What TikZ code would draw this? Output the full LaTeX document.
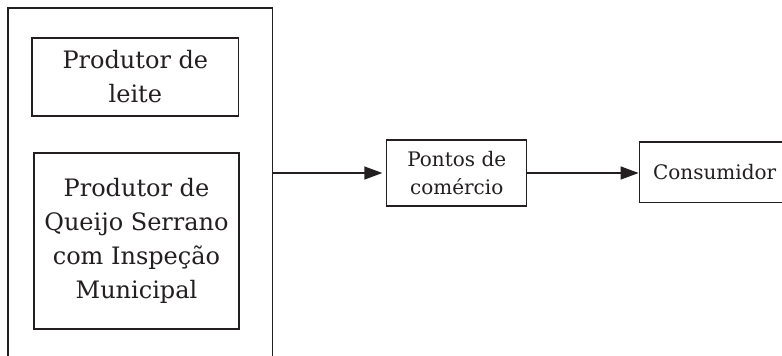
\documentclass[tikz,border=0pt]{standalone}
\usepackage{fontspec}
\setmainfont{DejaVu Serif}
\usepackage{xcolor}
\usetikzlibrary{arrows.meta}

\definecolor{tinta}{HTML}{231F20}

\begin{document}
\begin{tikzpicture}[x=0.5pt,y=-0.5pt,
	caixa/.style={draw=tinta,line width=0.7pt,align=center,text=tinta,inner sep=0pt},
	grande/.style={font=\fontsize{12pt}{17pt}\selectfont},
	pequena/.style={font=\fontsize{10pt}{13.85pt}\selectfont},
	seta/.style={-{Triangle[length=9pt,width=6.5pt]},draw=tinta,fill=tinta,line width=0.7pt}]
	\clip (0,0) rectangle (782,355);
	\fill[white] (0,0) rectangle (782,355);
	
	\node[caixa,minimum width=132.35pt,minimum height=181pt] (produtores) at (140.35,189) {};
	\node[caixa,grande,minimum width=103.35pt,minimum height=39pt] (leite) at (135.35,77) {Produtor de\\leite};
	\node[caixa,grande,minimum width=102.5pt,minimum height=88pt] (queijo) at (136.5,241) {Produtor de\\Queijo Serrano\\com Inspeção\\Municipal};
	
	\node[caixa,pequena,minimum width=70pt,minimum height=33pt] (pontos) at (456.7,173) {Pontos de\\comércio};
	\node[caixa,pequena,minimum width=75.35pt,minimum height=30.35pt] (consumidor) at (714.65,172.35) {Consumidor};
	
	\draw[seta,shorten >=1.85pt] (produtores.east |- pontos.west) -- (pontos.west);
	\draw[seta] (pontos.east) -- (pontos.east -| consumidor.west);
\end{tikzpicture}
\end{document}
